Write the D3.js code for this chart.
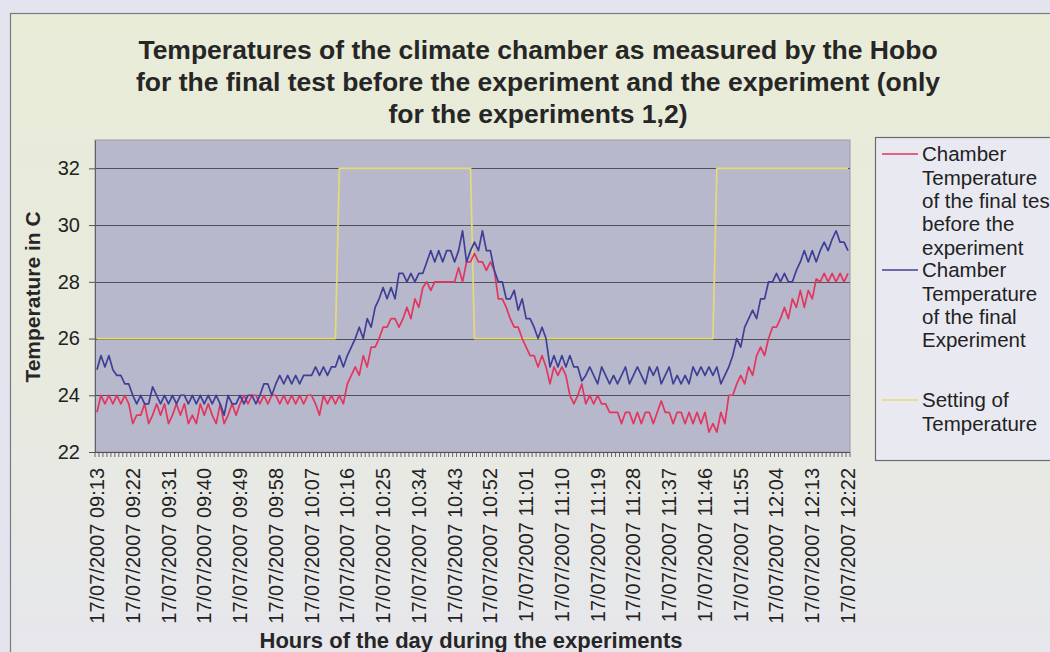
<!DOCTYPE html>
<html>
<head>
<meta charset="utf-8">
<script src="https://cdn.jsdelivr.net/npm/d3@7"></script>
<style>
  html, body { margin: 0; padding: 0; background: #e4e4ee; }
  svg { display: block; font-family: "Liberation Sans", Arial, sans-serif; }
</style>
</head>
<body>
<svg id="chart" width="1050" height="652"></svg>
<script>
// Logging period (one Hobo reading per minute)
const startTime = "17/07/2007 09:13";
const endTime = "17/07/2007 12:22";

// Category labels shown on the x axis
const tickLabels = [
  "17/07/2007 09:13", "17/07/2007 09:22", "17/07/2007 09:31", "17/07/2007 09:40",
  "17/07/2007 09:49", "17/07/2007 09:58", "17/07/2007 10:07", "17/07/2007 10:16",
  "17/07/2007 10:25", "17/07/2007 10:34", "17/07/2007 10:43", "17/07/2007 10:52",
  "17/07/2007 11:01", "17/07/2007 11:10", "17/07/2007 11:19", "17/07/2007 11:28",
  "17/07/2007 11:37", "17/07/2007 11:46", "17/07/2007 11:55", "17/07/2007 12:04",
  "17/07/2007 12:13", "17/07/2007 12:22"
];
const yTicks = [22, 24, 26, 28, 30, 32];

// Chamber temperature of the final test before the experiment (°C)
const finalTest = [
  23.4, 24.0, 23.7, 24.0, 23.7, 24.0, 23.7, 24.0, 23.7, 23.0,
  23.3, 23.3, 23.7, 23.0, 23.3, 23.7, 23.3, 23.7, 23.0, 23.3,
  23.7, 23.3, 23.7, 23.0, 23.3, 23.0, 23.7, 23.3, 23.7, 23.3,
  23.0, 23.7, 23.0, 23.3, 23.7, 23.3, 23.7, 24.0, 23.7, 24.0,
  24.0, 23.7, 24.0, 23.7, 24.0, 24.0, 23.7, 24.0, 23.7, 24.0,
  23.7, 24.0, 23.7, 24.0, 24.0, 23.7, 23.3, 24.0, 23.7, 24.0,
  23.7, 24.0, 23.7, 24.4, 24.7, 25.0, 24.7, 25.4, 25.0, 25.7,
  25.7, 26.0, 26.4, 26.4, 26.7, 26.7, 26.4, 26.7, 27.1, 26.7,
  27.4, 27.1, 27.8, 28.0, 27.7, 28.0, 28.0, 28.0, 28.0, 28.0,
  28.0, 28.5, 28.0, 28.7, 28.7, 29.0, 28.7, 28.7, 28.4, 28.7,
  28.4, 27.4, 27.4, 27.1, 26.7, 26.4, 26.4, 26.0, 25.7, 25.4,
  25.4, 25.0, 25.4, 25.0, 24.4, 25.0, 24.7, 25.0, 24.7, 24.0,
  23.7, 24.0, 24.4, 23.7, 24.0, 23.7, 24.0, 23.7, 23.7, 23.4,
  23.4, 23.4, 23.0, 23.4, 23.4, 23.0, 23.4, 23.0, 23.4, 23.4,
  23.0, 23.4, 23.8, 23.4, 23.4, 23.0, 23.4, 23.4, 23.0, 23.4,
  23.0, 23.4, 23.0, 23.4, 22.7, 23.0, 22.7, 23.4, 23.0, 24.0,
  24.0, 24.4, 24.7, 24.4, 25.0, 24.7, 25.4, 25.7, 25.4, 26.0,
  26.4, 26.4, 26.7, 27.1, 26.7, 27.4, 27.1, 27.7, 27.1, 27.7,
  27.4, 28.1, 28.0, 28.3, 28.0, 28.3, 28.0, 28.3, 28.0, 28.3
];

// Chamber temperature of the final experiment (°C)
const finalExperiment = [
  24.9, 25.4, 25.0, 25.4, 24.9, 24.7, 24.7, 24.4, 24.4, 24.0,
  23.7, 24.0, 23.7, 23.7, 24.3, 24.0, 23.7, 24.0, 23.7, 24.0,
  23.7, 24.0, 24.0, 23.7, 24.0, 23.7, 24.0, 23.7, 24.0, 23.7,
  24.0, 23.7, 23.3, 24.0, 23.7, 23.7, 24.0, 23.7, 24.0, 24.0,
  23.7, 24.0, 24.4, 24.4, 24.0, 24.4, 24.7, 24.4, 24.7, 24.4,
  24.7, 24.4, 24.7, 24.7, 24.7, 25.0, 24.7, 25.0, 24.7, 25.0,
  25.0, 25.4, 25.0, 25.4, 25.7, 26.0, 26.4, 26.0, 26.7, 26.4,
  27.1, 27.4, 27.8, 27.4, 27.8, 27.4, 28.3, 28.3, 28.0, 28.3,
  28.0, 28.3, 28.3, 28.7, 29.1, 28.7, 29.1, 28.7, 29.1, 29.1,
  28.7, 29.1, 29.8, 28.7, 29.1, 29.4, 29.1, 29.8, 29.1, 29.1,
  28.4, 28.0, 28.0, 27.4, 27.4, 27.7, 27.0, 27.4, 26.7, 26.7,
  26.4, 26.0, 26.4, 26.0, 25.0, 25.4, 25.0, 25.4, 25.0, 25.4,
  25.0, 25.0, 24.5, 24.7, 25.0, 24.7, 24.4, 25.0, 24.7, 24.4,
  24.7, 24.4, 24.7, 25.0, 24.4, 24.7, 25.0, 24.7, 24.4, 25.0,
  24.7, 25.0, 24.4, 24.7, 25.0, 24.4, 24.7, 24.4, 24.7, 24.4,
  25.0, 24.7, 25.0, 24.7, 25.0, 24.7, 25.0, 24.4, 24.7, 25.0,
  25.4, 26.0, 25.7, 26.4, 26.7, 27.0, 26.7, 27.4, 27.4, 28.0,
  28.0, 28.3, 28.0, 28.3, 28.0, 28.0, 28.4, 28.7, 29.1, 28.7,
  29.1, 28.7, 29.1, 29.4, 29.1, 29.5, 29.8, 29.4, 29.4, 29.1
];

// Temperature set-point schedule: each value holds from its time onwards
const settingTimes = ["17/07/2007 09:13", "17/07/2007 10:14", "17/07/2007 10:48", "17/07/2007 11:49"];
const settingValues = [26, 32, 26, 32];

const seriesNames = [
  ["Chamber", "Temperature", "of the final test", "before the", "experiment"],
  ["Chamber", "Temperature", "of the final", "Experiment"],
  ["Setting of", "Temperature"]
];
const seriesColors = ["#e2365f", "#3f3f96", "#e3dc72"];

const titleLines = [
  "Temperatures of the climate chamber as measured by the Hobo",
  "for the final test before the experiment and the experiment (only",
  "for the experiments 1,2)"
];

// ---------------------------------------------------------------
const parseT = d3.timeParse("%d/%m/%Y %H:%M");
const fmtT = d3.timeFormat("%d/%m/%Y %H:%M");
const minutes = d3.timeMinute.range(parseT(startTime), d3.timeMinute.offset(parseT(endTime), 1));
const categories = minutes.map(fmtT);

const setTimesParsed = settingTimes.map(parseT);
const settingSeries = minutes.map(m => {
  let v = settingValues[0];
  setTimesParsed.forEach((t, k) => { if (m >= t) v = settingValues[k]; });
  return v;
});

const plot = { left: 95, right: 850, top: 140, bottom: 452 };

const svg = d3.select("#chart");

// Chart area background
const defs = svg.append("defs");
const grad = defs.append("linearGradient").attr("id", "areaFill")
  .attr("x1", 0).attr("y1", 0).attr("x2", 0).attr("y2", 1);
grad.append("stop").attr("offset", "0%").attr("stop-color", "#e9ecd7");
grad.append("stop").attr("offset", "55%").attr("stop-color", "#e8eadf");
grad.append("stop").attr("offset", "100%").attr("stop-color", "#e6e6ee");

svg.append("rect")
  .attr("x", 10.5).attr("y", 13.5).attr("width", 1070).attr("height", 680)
  .attr("fill", "url(#areaFill)").attr("stroke", "#7a7a80").attr("stroke-width", 1.2);

// Scales
const x = d3.scalePoint().domain(categories).range([plot.left, plot.right]).padding(0.5);
const step = x.step();
const y = d3.scaleLinear().domain([22, 33]).range([plot.bottom, plot.top]);

// Plot area
svg.append("rect")
  .attr("x", plot.left).attr("y", plot.top)
  .attr("width", plot.right - plot.left).attr("height", plot.bottom - plot.top)
  .attr("fill", "#b8b8cc").attr("stroke", "#9a9aa8").attr("stroke-width", 1);

// Horizontal gridlines
svg.append("g").selectAll("line")
  .data(yTicks.filter(v => v > 22))
  .join("line")
  .attr("x1", plot.left).attr("x2", plot.right)
  .attr("y1", d => Math.round(y(d)) + 0.5).attr("y2", d => Math.round(y(d)) + 0.5)
  .attr("stroke", "#505058").attr("stroke-width", 1);

// Y axis
const yAxis = svg.append("g")
  .attr("transform", `translate(${plot.left},0)`)
  .call(d3.axisLeft(y).tickValues(yTicks).tickSize(6).tickSizeOuter(0).tickPadding(9));
yAxis.select(".domain").attr("stroke", "#606068");
yAxis.selectAll(".tick line").attr("stroke", "#505058");
yAxis.selectAll(".tick text")
  .attr("font-size", 20).attr("fill", "#222").attr("font-family", "Liberation Sans, Arial, sans-serif");

// X axis line with a tick between every category
const xAxisG = svg.append("g");
xAxisG.append("line")
  .attr("x1", plot.left).attr("x2", plot.right)
  .attr("y1", plot.bottom + 0.5).attr("y2", plot.bottom + 0.5)
  .attr("stroke", "#505058");
const boundaries = categories.map(c => x(c) - step / 2).concat([x(categories[categories.length - 1]) + step / 2]);
xAxisG.selectAll("line.minor")
  .data(boundaries)
  .join("line").attr("class", "minor")
  .attr("x1", d => d).attr("x2", d => d)
  .attr("y1", plot.bottom).attr("y2", plot.bottom + 5)
  .attr("stroke", "#55555c").attr("stroke-width", 0.9);

// X tick labels (rotated)
xAxisG.selectAll("text.xl")
  .data(tickLabels)
  .join("text").attr("class", "xl")
  .attr("transform", d => `translate(${x(d)},${plot.bottom + 16}) rotate(-90)`)
  .attr("text-anchor", "end")
  .attr("dy", "0.35em")
  .attr("font-size", 20)
  .attr("fill", "#222")
  .text(d => d);

// Series lines
const line = d3.line()
  .x((d, i) => x(categories[i]))
  .y(d => y(d));

const lineG = svg.append("g").attr("fill", "none").attr("stroke-linejoin", "round");
lineG.append("path").datum(settingSeries)
  .attr("d", line).attr("stroke", seriesColors[2]).attr("stroke-width", 1.7);
lineG.append("path").datum(finalTest)
  .attr("d", line).attr("stroke", seriesColors[0]).attr("stroke-width", 1.7);
lineG.append("path").datum(finalExperiment)
  .attr("d", line).attr("stroke", seriesColors[1]).attr("stroke-width", 1.7);

// Title
svg.append("g").selectAll("text")
  .data(titleLines)
  .join("text")
  .attr("x", 538).attr("y", (d, i) => 50 + i * 31.7)
  .attr("dy", "0.35em")
  .attr("text-anchor", "middle")
  .attr("font-size", 26.5).attr("font-weight", "bold").attr("fill", "#262626")
  .text(d => d);

// Axis titles
svg.append("text")
  .attr("x", 471).attr("y", 640).attr("dy", "0.35em")
  .attr("text-anchor", "middle")
  .attr("font-size", 22).attr("font-weight", "bold").attr("fill", "#262626")
  .text("Hours of the day during the experiments");

svg.append("text")
  .attr("transform", "translate(33,297) rotate(-90)")
  .attr("dy", "0.35em")
  .attr("text-anchor", "middle")
  .attr("font-size", 21).attr("font-weight", "bold").attr("fill", "#262626")
  .text("Temperature in C");

// Legend
const legend = svg.append("g");
legend.append("rect")
  .attr("x", 875.5).attr("y", 137.5).attr("width", 200).attr("height", 323)
  .attr("fill", "#e9e9f1").attr("stroke", "#6a6a70").attr("stroke-width", 1.2);

const entryTops = [154, 270, 400];
const lh = 23.4;
seriesNames.forEach((lines, k) => {
  legend.append("line")
    .attr("x1", 882).attr("x2", 918)
    .attr("y1", entryTops[k]).attr("y2", entryTops[k])
    .attr("stroke", seriesColors[k]).attr("stroke-width", 1.7);
  lines.forEach((t, j) => {
    legend.append("text")
      .attr("x", 922).attr("y", entryTops[k] + j * lh)
      .attr("dy", "0.35em")
      .attr("font-size", 20.5).attr("fill", "#222")
      .text(t);
  });
});
</script>
</body>
</html>
